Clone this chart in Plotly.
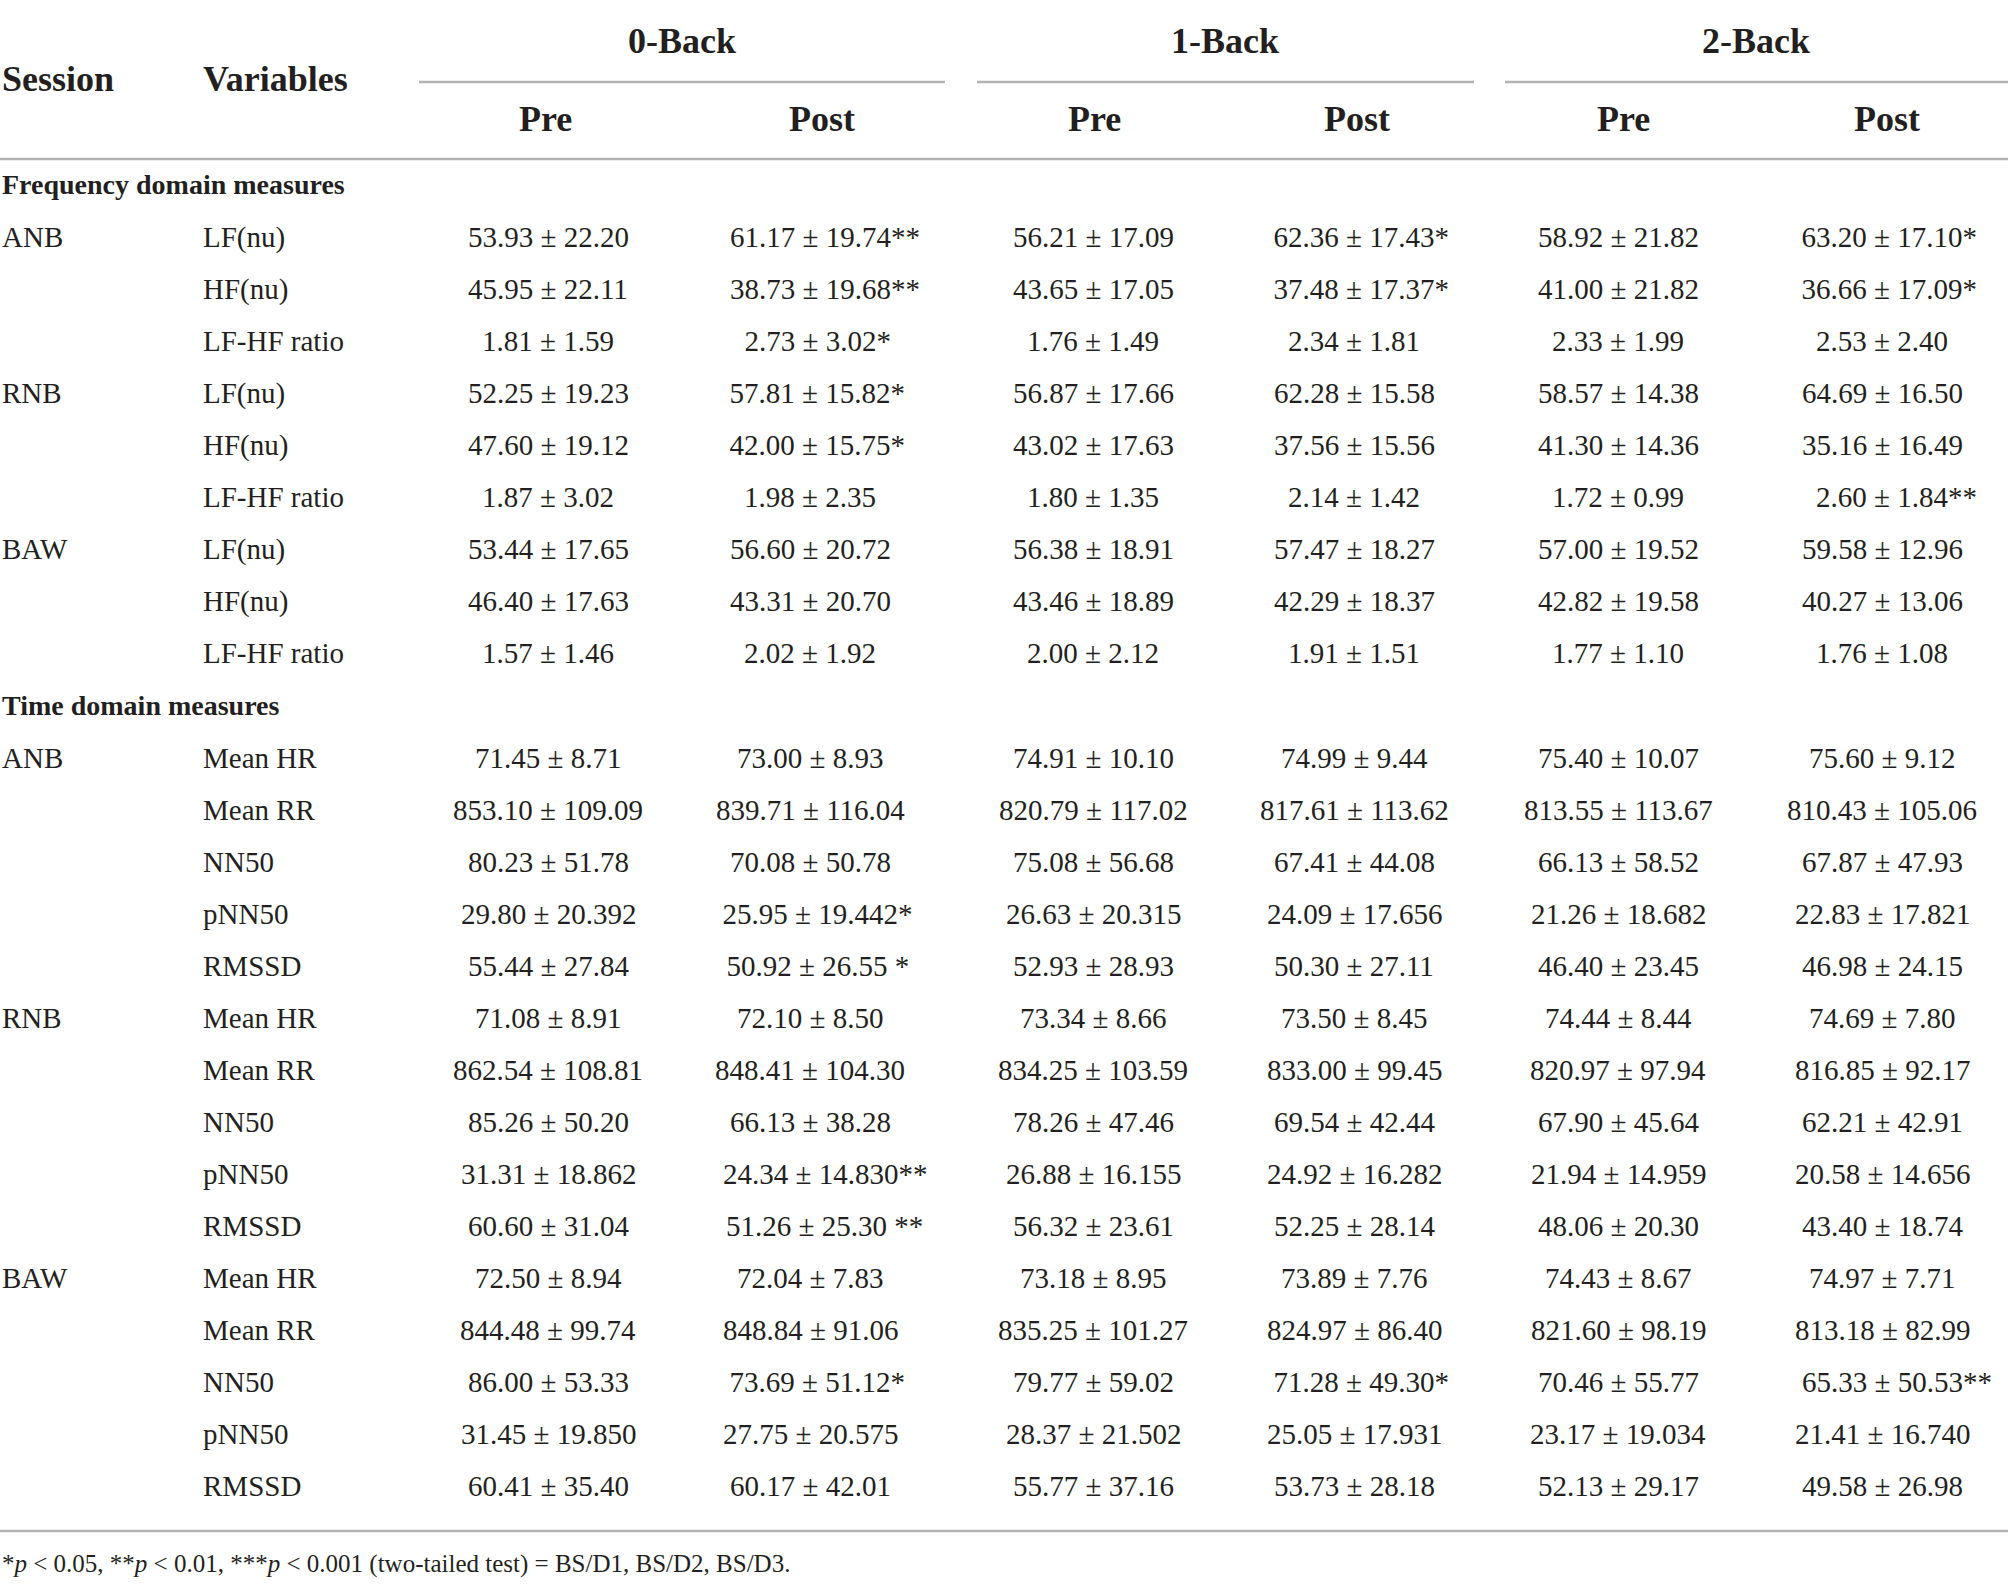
import re
import plotly.graph_objects as go

# ---- table content ----
groups = ['0-Back', '1-Back', '2-Back']
phases = ['Pre', 'Post', 'Pre', 'Post', 'Pre', 'Post']

freq_sessions = ['ANB', '', '', 'RNB', '', '', 'BAW', '', '']
freq_vars = ['LF(nu)', 'HF(nu)', 'LF-HF ratio'] * 3

time_sessions = ['ANB', '', '', '', '', 'RNB', '', '', '', '', 'BAW', '', '', '', '']
time_vars = ['Mean HR', 'Mean RR', 'NN50', 'pNN50', 'RMSSD'] * 3

# frequency domain rows (9) followed by time domain rows (15)
back0_pre = ['53.93 ± 22.20', '45.95 ± 22.11', '1.81 ± 1.59',
             '52.25 ± 19.23', '47.60 ± 19.12', '1.87 ± 3.02',
             '53.44 ± 17.65', '46.40 ± 17.63', '1.57 ± 1.46',
             '71.45 ± 8.71', '853.10 ± 109.09', '80.23 ± 51.78', '29.80 ± 20.392', '55.44 ± 27.84',
             '71.08 ± 8.91', '862.54 ± 108.81', '85.26 ± 50.20', '31.31 ± 18.862', '60.60 ± 31.04',
             '72.50 ± 8.94', '844.48 ± 99.74', '86.00 ± 53.33', '31.45 ± 19.850', '60.41 ± 35.40']
back0_post = ['61.17 ± 19.74**', '38.73 ± 19.68**', '2.73 ± 3.02*',
              '57.81 ± 15.82*', '42.00 ± 15.75*', '1.98 ± 2.35',
              '56.60 ± 20.72', '43.31 ± 20.70', '2.02 ± 1.92',
              '73.00 ± 8.93', '839.71 ± 116.04', '70.08 ± 50.78', '25.95 ± 19.442*', '50.92 ± 26.55 *',
              '72.10 ± 8.50', '848.41 ± 104.30', '66.13 ± 38.28', '24.34 ± 14.830**', '51.26 ± 25.30 **',
              '72.04 ± 7.83', '848.84 ± 91.06', '73.69 ± 51.12*', '27.75 ± 20.575', '60.17 ± 42.01']
back1_pre = ['56.21 ± 17.09', '43.65 ± 17.05', '1.76 ± 1.49',
             '56.87 ± 17.66', '43.02 ± 17.63', '1.80 ± 1.35',
             '56.38 ± 18.91', '43.46 ± 18.89', '2.00 ± 2.12',
             '74.91 ± 10.10', '820.79 ± 117.02', '75.08 ± 56.68', '26.63 ± 20.315', '52.93 ± 28.93',
             '73.34 ± 8.66', '834.25 ± 103.59', '78.26 ± 47.46', '26.88 ± 16.155', '56.32 ± 23.61',
             '73.18 ± 8.95', '835.25 ± 101.27', '79.77 ± 59.02', '28.37 ± 21.502', '55.77 ± 37.16']
back1_post = ['62.36 ± 17.43*', '37.48 ± 17.37*', '2.34 ± 1.81',
              '62.28 ± 15.58', '37.56 ± 15.56', '2.14 ± 1.42',
              '57.47 ± 18.27', '42.29 ± 18.37', '1.91 ± 1.51',
              '74.99 ± 9.44', '817.61 ± 113.62', '67.41 ± 44.08', '24.09 ± 17.656', '50.30 ± 27.11',
              '73.50 ± 8.45', '833.00 ± 99.45', '69.54 ± 42.44', '24.92 ± 16.282', '52.25 ± 28.14',
              '73.89 ± 7.76', '824.97 ± 86.40', '71.28 ± 49.30*', '25.05 ± 17.931', '53.73 ± 28.18']
back2_pre = ['58.92 ± 21.82', '41.00 ± 21.82', '2.33 ± 1.99',
             '58.57 ± 14.38', '41.30 ± 14.36', '1.72 ± 0.99',
             '57.00 ± 19.52', '42.82 ± 19.58', '1.77 ± 1.10',
             '75.40 ± 10.07', '813.55 ± 113.67', '66.13 ± 58.52', '21.26 ± 18.682', '46.40 ± 23.45',
             '74.44 ± 8.44', '820.97 ± 97.94', '67.90 ± 45.64', '21.94 ± 14.959', '48.06 ± 20.30',
             '74.43 ± 8.67', '821.60 ± 98.19', '70.46 ± 55.77', '23.17 ± 19.034', '52.13 ± 29.17']
back2_post = ['63.20 ± 17.10*', '36.66 ± 17.09*', '2.53 ± 2.40',
              '64.69 ± 16.50', '35.16 ± 16.49', '2.60 ± 1.84**',
              '59.58 ± 12.96', '40.27 ± 13.06', '1.76 ± 1.08',
              '75.60 ± 9.12', '810.43 ± 105.06', '67.87 ± 47.93', '22.83 ± 17.821', '46.98 ± 24.15',
              '74.69 ± 7.80', '816.85 ± 92.17', '62.21 ± 42.91', '20.58 ± 14.656', '43.40 ± 18.74',
              '74.97 ± 7.71', '813.18 ± 82.99', '65.33 ± 50.53**', '21.41 ± 16.740', '49.58 ± 26.98']

footnote = ('*<i>p</i> &lt; 0.05, **<i>p</i> &lt; 0.01, '
            '***<i>p</i> &lt; 0.001 (two-tailed test) = BS/D1, BS/D2, BS/D3.')

# ---- layout geometry (page pixels) ----
W, H = 2008, 1587
INK = '#231f20'
RULE = '#b3b3b3'
FONT = 'Liberation Serif'
group_x = [682, 1225, 1756]
group_span = [(419, 945), (977, 1474), (1505, 2008)]
phase_x = [545, 822, 1094, 1357, 1623, 1887]
data_x = [548, 810, 1093, 1354, 1618, 1882]
session_x, var_x = 0, 201
row0, row_step = 237, 52.05

columns = [back0_pre, back0_post, back1_pre, back1_post, back2_pre, back2_post]

fig = go.Figure()
ann = []


def add(x, y, text, size=29, bold=False, anchor='center'):
    if bold:
        text = '<b>' + text + '</b>'
    ann.append(dict(x=x, y=y, text=text, showarrow=False, xanchor=anchor, yanchor='middle',
                    font=dict(family=FONT, size=size, color=INK)))


# header
add(session_x, 79, 'Session', 36, True, 'left')
add(var_x, 79, 'Variables', 36, True, 'left')
for g, gx in zip(groups, group_x):
    add(gx, 41, g, 36, True)
for p, px in zip(phases, phase_x):
    add(px, 119, p, 36, True)

shapes = []
for x0, x1 in group_span:
    shapes.append(dict(type='line', x0=x0, x1=x1, y0=82, y1=82, line=dict(color=RULE, width=2.5)))
shapes.append(dict(type='line', x0=0, x1=W, y0=159, y1=159, line=dict(color=RULE, width=2.5)))
shapes.append(dict(type='line', x0=0, x1=W, y0=1531, y1=1531, line=dict(color=RULE, width=2.5)))


def row_y(k):
    return row0 + row_step * k


def cell(val):
    # keep significance stars hanging to the right of a centred value
    m = re.match(r'^(.*?)(\s*\*+)$', val)
    if not m:
        return val
    stars = m.group(2).strip()
    return '<span style="color:rgba(0,0,0,0)">' + stars + '</span>' + val


sections = [('Frequency domain measures', freq_sessions, freq_vars),
            ('Time domain measures', time_sessions, time_vars)]
k = -1
i = 0
for title, sess, vars_ in sections:
    add(session_x, row_y(k), title, 28, True, 'left')
    k += 1
    for s, v in zip(sess, vars_):
        y = row_y(k)
        if s:
            add(session_x, y, s, 29, False, 'left')
        add(var_x, y, v, 29, False, 'left')
        for col, cx in zip(columns, data_x):
            add(cx, y, cell(col[i]), 29)
        k += 1
        i += 1

add(0, 1564, footnote, 25, False, 'left')

fig.update_layout(
    width=W, height=H,
    margin=dict(l=0, r=0, t=0, b=0),
    paper_bgcolor='white', plot_bgcolor='white',
    xaxis=dict(range=[0, W], visible=False, fixedrange=True),
    yaxis=dict(range=[H, 0], visible=False, fixedrange=True),
    annotations=ann, shapes=shapes, showlegend=False,
)

# drop the browser's default page margin so the table sits flush at the edges
fig.write_html('out.html', config={'displayModeBar': False},
               post_script="document.body.style.margin='0';")
